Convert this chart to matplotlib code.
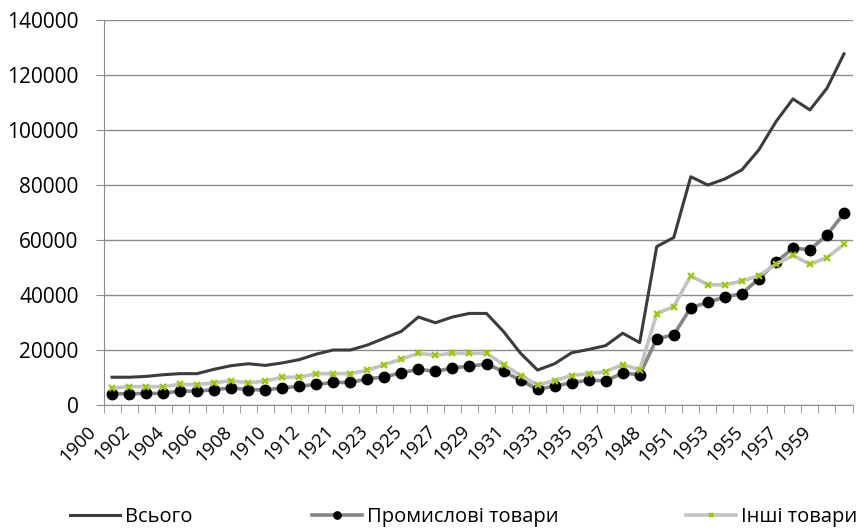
import matplotlib
matplotlib.use('Agg')
import matplotlib.pyplot as plt
import matplotlib.transforms as mtransforms
import numpy as np

plt.rcParams['font.family'] = ['Open Sans', 'DejaVu Sans']

# categories (years) as they appear on the axis
years = (list(range(1900, 1914)) + list(range(1921, 1939)) + [1948, 1950]
         + list(range(1951, 1961)))

total = [10100, 10100, 10400, 11000, 11400, 11400, 13000, 14300, 15000, 14400,
         15300, 16500, 18500, 20000, 20000, 21800, 24300, 26800, 32000, 29900,
         32000, 33300, 33300, 26700, 18800, 12700, 15000, 19000, 20200, 21600,
         26100, 22700, 57600, 60900, 83000, 80000, 82200, 85500, 92800, 103000,
         111300, 107300, 115200, 127700]

industrial = [4100, 4100, 4200, 4200, 5100, 5000, 5600, 6200, 5600, 5500,
              6200, 6800, 7500, 8200, 8200, 9500, 10200, 11700, 13000, 12200,
              13500, 14100, 14900, 12200, 9000, 5700, 6900, 8100, 9000, 8800,
              11600, 11000, 24100, 25500, 35400, 37300, 39300, 40500, 45900, 51900,
              57000, 56500, 61800, 69700]

other = [6100, 6700, 6700, 6700, 7500, 7400, 8100, 8800, 8100, 8700,
         10100, 10100, 11400, 11400, 11400, 12600, 14700, 16700, 18800, 18100,
         18800, 18800, 18800, 14700, 10700, 7300, 8900, 10700, 11400, 12100,
         14700, 12800, 33200, 35800, 47000, 43700, 43700, 45100, 47000, 51200,
         54400, 51200, 53600, 58400]

series_names = ['Всього', 'Промислові товари', 'Інші товари']

x = np.arange(len(years))

fig = plt.figure(figsize=(8.64, 5.30), dpi=100)
ax = fig.add_axes([103.5/864, 1-405/530, (852.5-103.5)/864, (405-20)/530])

l1, = ax.plot(x, total, color='#3c3c3c', lw=2.2, zorder=3)
l2, = ax.plot(x, industrial, color='#868686', lw=2.6, marker='o', ms=7.5,
              mfc='black', mec='black', zorder=4)
l3, = ax.plot(x, other, color='#c3c3c3', lw=2.6, marker='x', ms=4, mew=1.6,
              mec='#99cc00', zorder=5)

ax.set_xlim(-0.5, len(years) - 0.5)
ax.set_ylim(0, 140000)
ax.set_yticks(np.arange(0, 140001, 20000))
ax.yaxis.grid(True, color='#8c8c8c', lw=1)
ax.set_axisbelow(True)

ax.set_xticks(x[::2])
ax.set_xticklabels([str(y) for y in years[::2]], rotation=45, ha='right',
                   va='center', rotation_mode='anchor', fontsize=13.5)
ax.set_xticks(np.arange(-0.5, len(years), 1), minor=True)
ax.tick_params(axis='x', which='major', length=0, pad=17)
ax.tick_params(axis='x', which='minor', length=6, color='#8c8c8c')
ax.tick_params(axis='y', length=6, color='#8c8c8c', labelsize=15, pad=12)

# Excel puts the end of each rotated label a little left of its category
offset = mtransforms.ScaledTranslation(-19/100, 0, fig.dpi_scale_trans)
for lab in ax.get_xticklabels():
    lab.set_transform(lab.get_transform() + offset)

for s in ['top', 'right']:
    ax.spines[s].set_visible(False)
for s in ['left', 'bottom']:
    ax.spines[s].set_color('#8c8c8c')

legend_x = [70, 312, 686]
for line, name, lx in zip([l1, l2, l3], series_names, legend_x):
    leg = fig.legend([line], [name], loc='center left',
                     bbox_to_anchor=(lx/864, 1-517/530), frameon=False,
                     borderpad=0, borderaxespad=0, handlelength=2.5,
                     handletextpad=0.25, fontsize=14.5, markerscale=0.7)

fig.savefig('out.png', dpi=100)
